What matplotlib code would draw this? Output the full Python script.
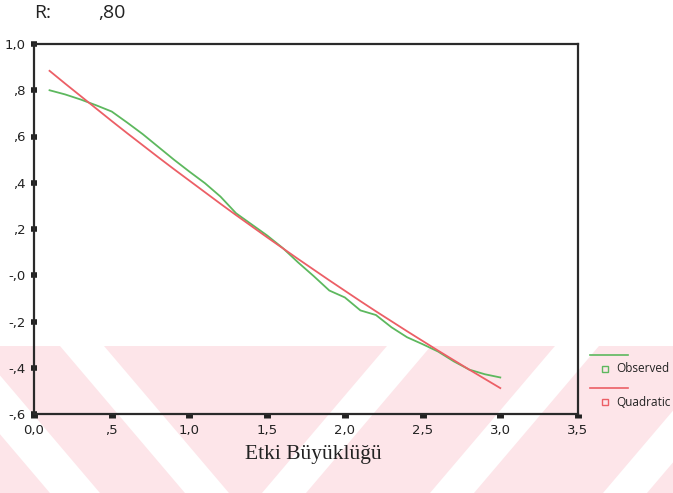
import matplotlib
matplotlib.use("Agg")
import matplotlib.pyplot as plt
from matplotlib.patches import Polygon, Rectangle
from matplotlib.lines import Line2D
from matplotlib import font_manager

# ---------------- data ----------------
x_vals = [0.1, 0.2, 0.3, 0.4, 0.5, 0.6, 0.7, 0.8, 0.9, 1.0,
          1.1, 1.2, 1.3, 1.4, 1.5, 1.6, 1.7, 1.8, 1.9, 2.0,
          2.1, 2.2, 2.3, 2.4, 2.5, 2.6, 2.7, 2.8, 2.9, 3.0]
observed = [0.800, 0.782, 0.760, 0.735, 0.708, 0.660, 0.610, 0.555, 0.500, 0.448,
            0.398, 0.340, 0.268, 0.220, 0.172, 0.118, 0.055, -0.004, -0.066, -0.096,
            -0.152, -0.172, -0.225, -0.268, -0.298, -0.330, -0.372, -0.408, -0.428, -0.442]
quadratic = [0.884, 0.829, 0.775, 0.721, 0.667, 0.614, 0.562, 0.510, 0.459, 0.409,
             0.359, 0.309, 0.260, 0.212, 0.164, 0.117, 0.070, 0.024, -0.022, -0.067,
             -0.112, -0.156, -0.199, -0.242, -0.284, -0.326, -0.367, -0.408, -0.448, -0.488]
x_ticks = [0.0, 0.5, 1.0, 1.5, 2.0, 2.5, 3.0, 3.5]
x_tick_labels = ["0,0", ",5", "1,0", "1,5", "2,0", "2,5", "3,0", "3,5"]
y_ticks = [1.0, 0.8, 0.6, 0.4, 0.2, 0.0, -0.2, -0.4, -0.6]
y_tick_labels = ["1,0", ",8", ",6", ",4", ",2", "-,0", "-,2", "-,4", "-,6"]
series_names = ["Observed", "Quadratic"]
title_label = "R:"
title_value = ",80"
x_label = "Etki Büyüklüğü"

# ---------------- style ----------------
W, H = 673, 493
GREEN = "#5db85e"
RED = "#ec5f66"
PINK = "#fde5e9"

avail = {f.name for f in font_manager.fontManager.ttflist}
narrow = "Liberation Sans Narrow" if "Liberation Sans Narrow" in avail else "DejaVu Sans"
tick_family = [narrow, "DejaVu Sans"]

fig = plt.figure(figsize=(W / 100, H / 100), dpi=100)
fig.patch.set_facecolor("white")


def fx(px):
    return px / W


def fy(py):
    return 1 - py / H


# ---------------- watermark (background decoration) ----------------
top = 346
bot = H
fig.patches.append(Rectangle((0, fy(bot)), 1, fy(top) - fy(bot), transform=fig.transFigure,
                             facecolor=PINK, edgecolor="none", zorder=-10))
dh = bot - top
k = 0.85 * dh
white_stripes = []
# "\" stripes on the left
white_stripes.append([(-75, top), (-25, top), (-25 + k, bot), (-75 + k, bot)])
white_stripes.append([(60, top), (104, top), (104 + k, bot), (60 + k, bot)])
# "/" stripes
for b in [262, 430, 603]:
    white_stripes.append([(b, bot), (b + 44, bot), (b + 44 + k, top), (b + k, top)])
for poly in white_stripes:
    fig.patches.append(Polygon([(fx(a), fy(b)) for a, b in poly], closed=True,
                               transform=fig.transFigure, facecolor="white",
                               edgecolor="none", zorder=-9))

# ---------------- axes ----------------
left, right, ytop, ybot = 34, 578, 44, 414
ax = fig.add_axes([fx(left), fy(ybot), fx(right) - fx(left), fy(ytop) - fy(ybot)])
ax.set_facecolor("none")

ax.plot(x_vals, observed, color=GREEN, lw=1.3, zorder=3)
ax.plot(x_vals, quadratic, color=RED, lw=1.3, zorder=4)

ax.set_xlim(0, 3.5)
ax.set_ylim(-0.6, 1.0)
ax.set_xticks(x_ticks)
ax.set_xticklabels(x_tick_labels, family=tick_family, fontsize=9.5, color="#222222")
ax.set_yticks(y_ticks)
ax.set_yticklabels(y_tick_labels, family=tick_family, fontsize=9.5, color="#222222")
ax.tick_params(axis="x", direction="out", length=3, width=5, pad=4, color="#222222")
ax.tick_params(axis="y", direction="inout", length=4, width=4, pad=4, color="#222222")
for s in ax.spines.values():
    s.set_linewidth(1.6)
    s.set_color("#2a2a2a")

# title-like text
fig.text(fx(34), fy(13), title_label, fontsize=14, family=["Open Sans", "DejaVu Sans"],
         color="#222222", va="center", ha="left")
fig.text(fx(98), fy(13), title_value, fontsize=14, family=["Open Sans", "DejaVu Sans"],
         color="#222222", va="center", ha="left")

# x label
fig.text(fx(313), fy(455), x_label, fontsize=15.5, family=["Liberation Serif", "DejaVu Serif"],
         color="#222222", va="center", ha="center")

# legend (manual, outside right)
colors = [GREEN, RED]
line_y = [355, 388]
for name, c, ly in zip(series_names, colors, line_y):
    fig.lines.append(Line2D([fx(590), fx(628)], [fy(ly), fy(ly)], transform=fig.transFigure,
                            color=c, lw=1.2))
    fig.lines.append(Line2D([fx(605)], [fy(ly + 14)], transform=fig.transFigure,
                            marker="s", markersize=5, markerfacecolor="none",
                            markeredgecolor=c, markeredgewidth=1.0, linestyle="none"))
    fig.text(fx(616), fy(ly + 14), name, fontsize=8.5, family=["Open Sans", "DejaVu Sans"],
             color="#222222", va="center", ha="left")

fig.savefig("out.png", dpi=100)
